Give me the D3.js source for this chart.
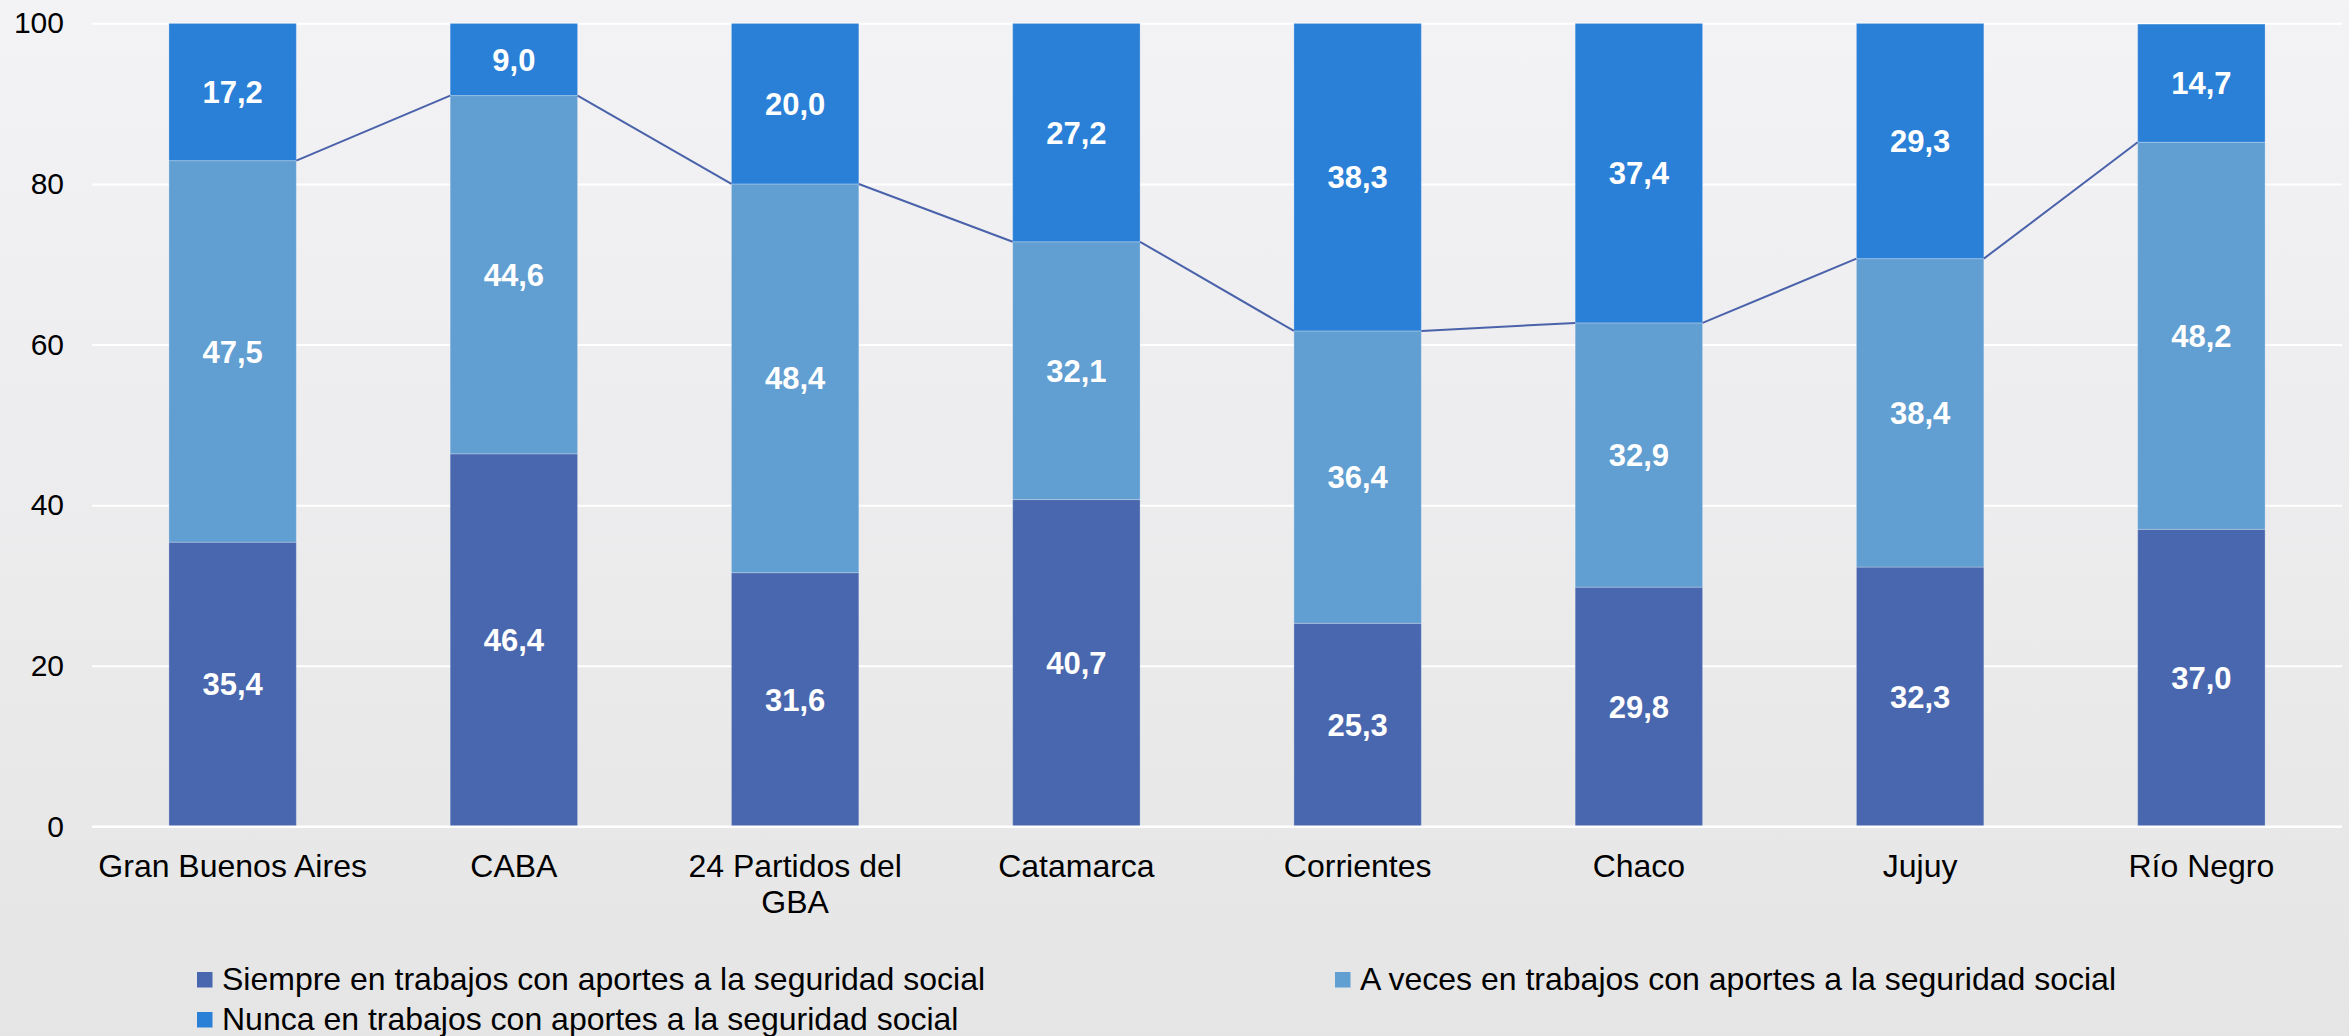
<!DOCTYPE html>
<html>
<head>
<meta charset="utf-8">
<script src="https://cdn.jsdelivr.net/npm/d3@7"></script>
<style>
  html, body { margin: 0; padding: 0; }
  body { width: 2349px; height: 1036px; overflow: hidden; }
  svg { display: block; font-family: "Liberation Sans", Arial, sans-serif; }
</style>
</head>
<body>
<svg id="chart" width="2349" height="1036"></svg>
<script>
const categories = ["Gran Buenos Aires", "CABA", "24 Partidos del GBA", "Catamarca", "Corrientes", "Chaco", "Jujuy", "Río Negro"];
const seriesNames = [
  "Siempre en trabajos con aportes a la seguridad social",
  "A veces en trabajos con aportes a la seguridad social",
  "Nunca en trabajos con aportes a la seguridad social"
];
const siempre = [35.4, 46.4, 31.6, 40.7, 25.3, 29.8, 32.3, 37.0];
const aVeces  = [47.5, 44.6, 48.4, 32.1, 36.4, 32.9, 38.4, 48.2];
const nunca   = [17.2, 9.0, 20.0, 27.2, 38.3, 37.4, 29.3, 14.7];
const yTicks = [0, 20, 40, 60, 80, 100];
const colors = ["#4967ae", "#619ed1", "#2a7fd7"];

const W = 2349, H = 1036;
const plot = { left: 92, right: 2342, top: 23.3, bottom: 826.5 };

const svg = d3.select("#chart");
const defs = svg.append("defs");
const grad = defs.append("linearGradient").attr("id", "bg").attr("x1", 0).attr("y1", 0).attr("x2", 0).attr("y2", 1);
grad.append("stop").attr("offset", "0%").attr("stop-color", "#f3f3f6");
grad.append("stop").attr("offset", "100%").attr("stop-color", "#e5e5e5");
defs.append("clipPath").attr("id", "plotclip").append("rect")
  .attr("x", plot.left).attr("y", plot.top).attr("width", plot.right - plot.left).attr("height", plot.bottom - plot.top);

svg.append("rect").attr("width", W).attr("height", H).attr("fill", "url(#bg)");

const x = d3.scaleBand().domain(categories).range([plot.left, plot.right]).paddingInner(0.547).paddingOuter(0.2735);
const y = d3.scaleLinear().domain([0, 100]).range([plot.bottom, plot.top]);

// gridlines
const grid = svg.append("g").attr("transform", `translate(${plot.left},0)`)
  .call(d3.axisLeft(y).tickValues(yTicks).tickSize(-(plot.right - plot.left)).tickFormat(""));
grid.select(".domain").remove();
grid.selectAll("line").attr("stroke", "#ffffff").attr("stroke-width", 2);

// y axis labels
const yAx = svg.append("g").attr("transform", `translate(64,0)`)
  .call(d3.axisLeft(y).tickValues(yTicks).tickSize(0).tickPadding(0).tickFormat(d3.format("d")));
yAx.select(".domain").remove();
yAx.selectAll("text").attr("font-size", 30).attr("fill", "#000").attr("font-family", "Liberation Sans, Arial, sans-serif");

// stacked data
const table = categories.map((c, i) => ({ cat: c, s0: siempre[i], s1: aVeces[i], s2: nunca[i] }));
const stack = d3.stack().keys(["s0", "s1", "s2"])(table);
const fmt = v => d3.format(".1f")(v).replace(".", ",");

const barsG = svg.append("g").attr("clip-path", "url(#plotclip)");
stack.forEach((layer, k) => {
  barsG.append("g").selectAll("rect").data(layer).join("rect")
    .attr("x", d => x(d.data.cat))
    .attr("width", x.bandwidth())
    .attr("y", d => y(Math.min(100, d[1])))
    .attr("height", d => y(d[0]) - y(Math.min(100, d[1])))
    .attr("fill", colors[k])
    .attr("stroke", "rgba(255,255,255,0.25)")
    .attr("stroke-width", 1);
});

// series lines between the 2nd series tops
const tops = stack[1];
const lineG = svg.append("g");
for (let i = 0; i < tops.length - 1; i++) {
  lineG.append("line")
    .attr("x1", x(categories[i]) + x.bandwidth())
    .attr("y1", y(tops[i][1]))
    .attr("x2", x(categories[i + 1]))
    .attr("y2", y(tops[i + 1][1]))
    .attr("stroke", "#4a62aa").attr("stroke-width", 2);
}

// labels
stack.forEach((layer) => {
  svg.append("g").selectAll("text").data(layer).join("text")
    .attr("x", d => x(d.data.cat) + x.bandwidth() / 2)
    .attr("y", d => (y(d[0]) + y(Math.min(100, d[1]))) / 2)
    .attr("dy", "0.36em")
    .attr("text-anchor", "middle")
    .attr("font-size", 31)
    .attr("font-weight", "bold")
    .attr("fill", "#ffffff")
    .text(d => fmt(d[1] - d[0]));
});

// x axis
const xAx = svg.append("g").attr("transform", `translate(0,${plot.bottom})`)
  .call(d3.axisBottom(x).tickSize(0).tickPadding(0));
xAx.select(".domain").remove();
svg.append("line").attr("x1", plot.left).attr("x2", plot.right).attr("y1", plot.bottom).attr("y2", plot.bottom)
  .attr("stroke", "#ffffff").attr("stroke-width", 2);
xAx.selectAll("text")
  .attr("font-size", 32).attr("fill", "#000").attr("font-family", "Liberation Sans, Arial, sans-serif")
  .attr("dy", null).attr("y", 50)
  .each(function() {
    const t = d3.select(this);
    const words = t.text().split(" ");
    const maxW = x.step() - 4;
    t.text(null);
    let line = [];
    let tspan = t.append("tspan").attr("x", 0).attr("dy", 0);
    let lineNo = 0;
    words.forEach(w => {
      line.push(w);
      tspan.text(line.join(" "));
      if (tspan.node().getComputedTextLength() > maxW && line.length > 1) {
        line.pop();
        tspan.text(line.join(" "));
        line = [w];
        lineNo++;
        tspan = t.append("tspan").attr("x", 0).attr("dy", 36).text(w);
      }
    });
  });

// legend
const legendPos = [[197, 972], [1335, 972], [197, 1012]];
const leg = svg.append("g");
seriesNames.forEach((name, k) => {
  const [lx, ly] = legendPos[k];
  leg.append("rect").attr("x", lx).attr("y", ly).attr("width", 15.5).attr("height", 15.5).attr("fill", colors[k]);
  leg.append("text").attr("x", lx + 25).attr("y", ly + 18).attr("font-size", 32).attr("fill", "#000").text(name);
});
</script>
</body>
</html>
